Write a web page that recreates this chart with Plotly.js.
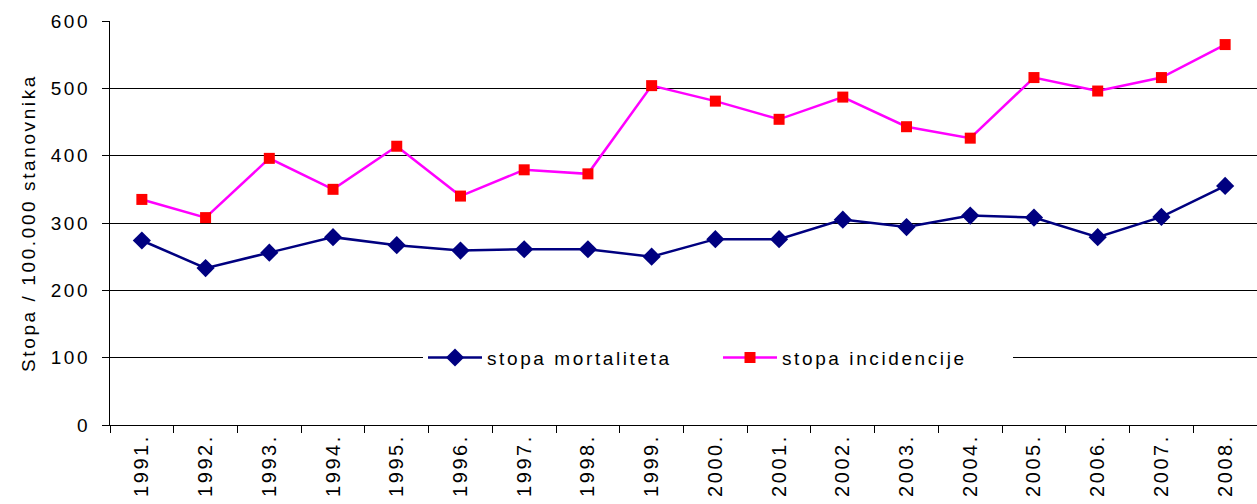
<!DOCTYPE html>
<html>
<head>
<meta charset="utf-8">
<script src="https://cdn.plot.ly/plotly-3.0.1.min.js"></script>
<style>
html,body{margin:0;padding:0;background:#fff;}
#chart{width:1257px;height:504px;}
svg text{letter-spacing:2.6px;}
</style>
</head>
<body>
<div id="chart"></div>
<script>
const years = ["1991.","1992.","1993.","1994.","1995.","1996.","1997.","1998.","1999.","2000.","2001.","2002.","2003.","2004.","2005.","2006.","2007.","2008."];
const mortalitet = [274,233,256,279,267,259,261,261,250,276,276,305,294,311,308,279,309,355];
const incidencija = [335,308,396,350,414,340,379,373,504,481,454,487,443,426,516,496,516,565];
const yTicks = [0,100,200,300,400,500,600];

const font = {family: "Liberation Sans, Arial, sans-serif", size: 19, color: "#000"};
const xfont = {family: "Liberation Sans, Arial, sans-serif", size: 20, color: "#000"};

const traces = [
  {
    x: years, y: mortalitet, name: "stopa mortaliteta", type: "scatter", mode: "lines+markers",
    line: {color: "#000080", width: 2.5},
    marker: {symbol: "diamond", size: 14, color: "#000080"}
  },
  {
    x: years, y: incidencija, name: "stopa incidencije", type: "scatter", mode: "lines+markers",
    line: {color: "#FF00FF", width: 2.5},
    marker: {symbol: "square", size: 11, color: "#FF0000"}
  }
];

const layout = {
  width: 1257, height: 504,
  margin: {l: 110, r: 0, t: 21, b: 79},
  paper_bgcolor: "#fff", plot_bgcolor: "#fff",
  font: font,
  showlegend: true,
  legend: {
    orientation: "h", x: (423-110)/1147, xanchor: "left", y: 100/600, yanchor: "middle",
    bgcolor: "#fff", borderwidth: 0, font: font, itemwidth: 54, tracegroupgap: 0,
    entrywidth: 226, entrywidthmode: "pixels"
  },
  xaxis: {
    type: "category", tickson: "boundaries", tickangle: -90,
    showline: true, linecolor: "#000", linewidth: 1,
    ticks: "outside", ticklen: 7, tickcolor: "#000",
    showgrid: false, zeroline: false, tickfont: xfont,
    range: [-0.5, years.length - 0.5], fixedrange: true
  },
  yaxis: {
    range: [0, 600], tickvals: yTicks, ticktext: yTicks.map(String),
    showline: true, linecolor: "#000", linewidth: 1,
    ticks: "outside", ticklen: 7, tickcolor: "#000",
    showgrid: true, gridcolor: "#000", gridwidth: 1, zeroline: false,
    tickfont: font, ticklabelstandoff: 8,
    title: {text: "Stopa / 100.000 stanovnika", font: font, standoff: 10}
  }
};

Plotly.newPlot("chart", traces, layout, {displayModeBar: false, staticPlot: true});
</script>
</body>
</html>
